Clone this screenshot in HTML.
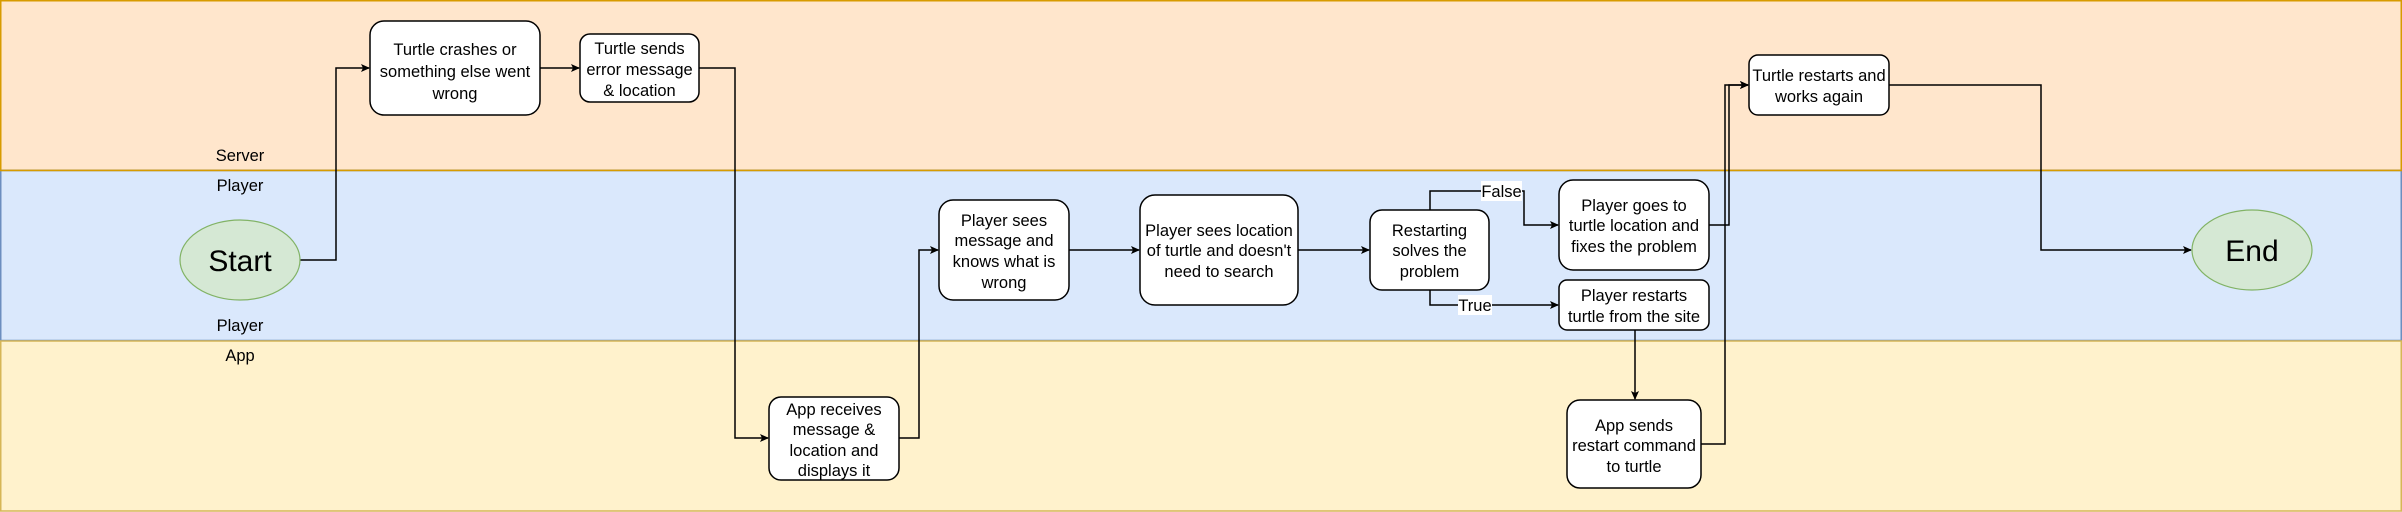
<!DOCTYPE html>
<html><head><meta charset="utf-8"><style>
html,body{margin:0;padding:0;width:2402px;height:512px;overflow:hidden;background:#fff}
svg{display:block}
text{font-family:"Liberation Sans",Arial,sans-serif;font-size:16.5px;fill:#000}
</style></head><body>
<svg width="2402" height="512" viewBox="0 0 2402 512" xmlns="http://www.w3.org/2000/svg">
<defs><marker id="a" markerWidth="10" markerHeight="10" refX="8" refY="5" orient="auto" markerUnits="userSpaceOnUse"><path d="M0,1 L9,5 L0,9 L2,5 Z" fill="#000"/></marker></defs>
<rect x="0.75" y="0.75" width="2400.5" height="169.5" fill="#ffe6cc" stroke="#d79b00" stroke-width="1.5"/>
<rect x="0.75" y="170.5" width="2400.5" height="170" fill="#dae8fc" stroke="#6c8ebf" stroke-width="1.5"/>
<rect x="0.75" y="341" width="2400.5" height="170" fill="#fff2cc" stroke="#d6b656" stroke-width="1.5"/>
<line x1="0" y1="170.5" x2="2402" y2="170.5" stroke="#d79b00" stroke-width="1.5"/>
<g text-anchor="middle">
<text x="240" y="161">Server</text>
<text x="240" y="191">Player</text>
<text x="240" y="331">Player</text>
<text x="240" y="361">App</text>
</g>
<g fill="none" stroke="#000" stroke-width="1.5">
<polyline points="300,260 336,260 336,68 369,68" marker-end="url(#a)"/>
<polyline points="540,68 579,68" marker-end="url(#a)"/>
<polyline points="699,68 735,68 735,438 768,438" marker-end="url(#a)"/>
<polyline points="899,438 919,438 919,250 938,250" marker-end="url(#a)"/>
<polyline points="1069,250 1139,250" marker-end="url(#a)"/>
<polyline points="1298,250 1369,250" marker-end="url(#a)"/>
<polyline points="1430,210 1430,191 1524,191 1524,225 1558,225" marker-end="url(#a)"/>
<polyline points="1430,290 1430,305 1558,305" marker-end="url(#a)"/>
<polyline points="1635,330 1635,399" marker-end="url(#a)"/>
<polyline points="1709,225 1729,225 1729,85 1748,85" marker-end="url(#a)"/>
<polyline points="1701,444 1725,444 1725,85 1748,85" marker-end="url(#a)"/>
<polyline points="1889,85 2041,85 2041,250 2191,250" marker-end="url(#a)"/>
</g>
<rect x="1481" y="181" width="41" height="20" fill="#fff"/>
<rect x="1458" y="295" width="34" height="20" fill="#fff"/>
<text x="1501.5" y="197" text-anchor="middle">False</text>
<text x="1475" y="311" text-anchor="middle">True</text>
<g fill="#fff" stroke="#000" stroke-width="1.5">
<rect x="370" y="21" width="170" height="94" rx="14"/>
<rect x="580" y="34" width="119" height="68" rx="10"/>
<rect x="769" y="397" width="130" height="83" rx="12"/>
<rect x="939" y="200" width="130" height="100" rx="14"/>
<rect x="1140" y="195" width="158" height="110" rx="15"/>
<rect x="1370" y="210" width="119" height="80" rx="12"/>
<rect x="1559" y="180" width="150" height="90" rx="14"/>
<rect x="1559" y="280" width="150" height="50" rx="8"/>
<rect x="1567" y="400" width="134" height="88" rx="13"/>
<rect x="1749" y="55" width="140" height="60" rx="9"/>
</g>
<ellipse cx="240" cy="260" rx="60" ry="40" fill="#d5e8d4" stroke="#82b366" stroke-width="1.2"/>
<ellipse cx="2252" cy="250" rx="60" ry="40" fill="#d5e8d4" stroke="#82b366" stroke-width="1.2"/>
<g text-anchor="middle" font-size="30"><text x="240" y="271" style="font-size:30px">Start</text><text x="2252" y="261" style="font-size:30px">End</text></g>
<g text-anchor="middle">
<text x="455" y="55">Turtle crashes or</text><text x="455" y="77">something else went</text><text x="455" y="99">wrong</text>
<text x="639.5" y="54">Turtle sends</text><text x="639.5" y="75">error message</text><text x="639.5" y="96">&amp; location</text>
<text x="834" y="415">App receives</text><text x="834" y="435">message &amp;</text><text x="834" y="456">location and</text><text x="834" y="476">displays it</text>
<text x="1004" y="226">Player sees</text><text x="1004" y="246">message and</text><text x="1004" y="267">knows what is</text><text x="1004" y="288">wrong</text>
<text x="1219" y="236">Player sees location</text><text x="1219" y="256">of turtle and doesn't</text><text x="1219" y="277">need to search</text>
<text x="1429.5" y="236">Restarting</text><text x="1429.5" y="256">solves the</text><text x="1429.5" y="277">problem</text>
<text x="1634" y="211">Player goes to</text><text x="1634" y="231">turtle location and</text><text x="1634" y="252">fixes the problem</text>
<text x="1634" y="301">Player restarts</text><text x="1634" y="322">turtle from the site</text>
<text x="1634" y="431">App sends</text><text x="1634" y="451">restart command</text><text x="1634" y="472">to turtle</text>
<text x="1819" y="81">Turtle restarts and</text><text x="1819" y="102">works again</text>
</g>
</svg>
</body></html>
